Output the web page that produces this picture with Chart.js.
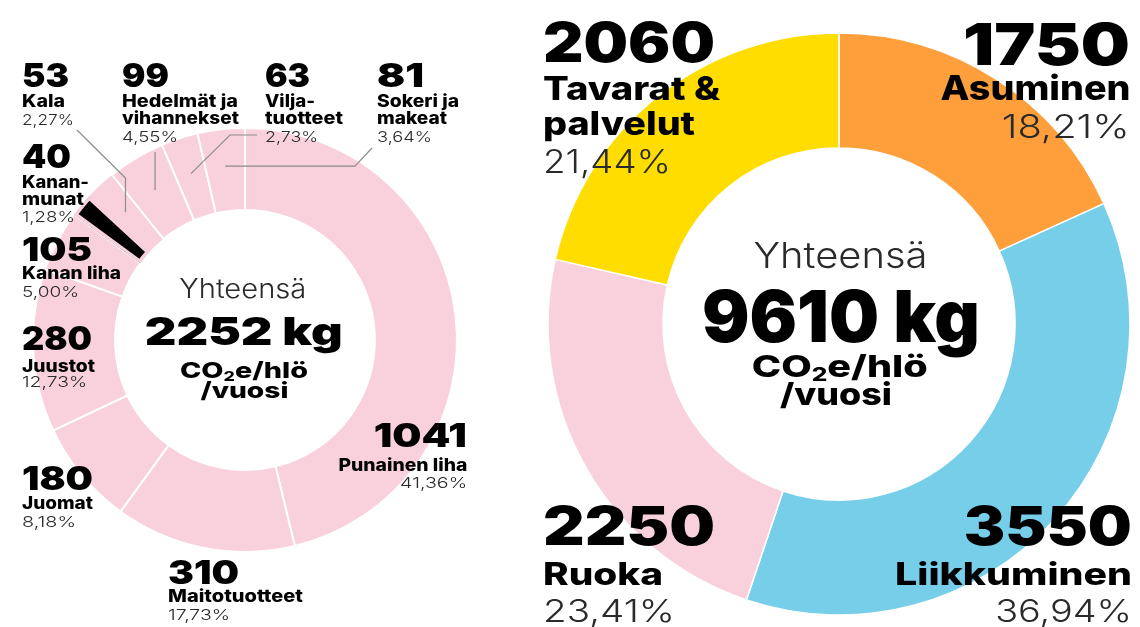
<!DOCTYPE html>
<html><head><meta charset="utf-8">
<script src="https://cdn.jsdelivr.net/npm/chart.js@4"></script>
<style>
html,body{margin:0;padding:0;background:#fff;width:1140px;height:627px;overflow:hidden}
#wrap{position:relative;width:1140px;height:627px}
canvas{position:absolute;top:0}
.t{position:absolute;white-space:nowrap;color:#000;margin:0;padding:0}
.t sub{font-size:0.62em;vertical-align:-0.22em;line-height:0}
</style></head>
<body><div id="wrap">
<canvas id="food" width="500" height="627" style="left:0"></canvas>
<canvas id="total" width="600" height="627" style="left:540px"></canvas>
</div>
<script>
// ---------- DATA ----------
const foodCategories = ['Punainen liha','Maitotuotteet','Juomat','Juustot','Kanan liha','Kananmunat','Kala','Hedelmät ja vihannekset','Viljatuotteet','Sokeri ja makeat'];
const foodValues = [1041, 310, 180, 280, 105, 40, 53, 99, 63, 81];
const foodPercents = ['41,36%','17,73%','8,18%','12,73%','5,00%','1,28%','2,27%','4,55%','2,73%','3,64%'];
const foodLabelLines = ['Punainen liha','Maitotuotteet','Juomat','Juustot','Kanan liha','Kanan-\nmunat','Kala','Hedelmät ja\nvihannekset','Vilja-\ntuotteet','Sokeri ja\nmakeat'];
const foodTotal = 2252;

const totalCategories = ['Asuminen','Liikkuminen','Ruoka','Tavarat & palvelut'];
const totalValues = [1750, 3550, 2250, 2060];
const totalPercents = ['18,21%','36,94%','23,41%','21,44%'];
const totalLabelLines = ['Asuminen','Liikkuminen','Ruoka','Tavarat &\npalvelut'];
const grandTotal = 9610;

// ---------- STYLE / LAYOUT ----------
const PINK = '#f9d1dc';
const HIGHLIGHT = 5; // Kananmunat drawn as black bar
const foodColors = foodValues.map((v, i) => i === HIGHLIGHT ? '#000000' : PINK);
const foodBorderColors = foodValues.map((v, i) => i === HIGHLIGHT ? PINK : '#ffffff');
const foodBorderWidths = foodValues.map((v, i) => i === HIGHLIGHT ? 3 : (i === HIGHLIGHT + 1 ? 0 : 2));
const foodBorderAlign = foodValues.map((v, i) => i === HIGHLIGHT ? 'inner' : 'center');
const totalColors = ['#ff9f3b', '#76cee9', '#f9d1dc', '#ffdd00'];
const FONT = 'Inter, Roboto, "Noto Sans", sans-serif';

// label blocks: x anchor, align, baselines [number, name lines..., percent], widths
const foodLayout = [
  {x:467, a:'right', y:[447,471,488], w:[93,129,67]},
  {x:168, a:'left',  y:[584,602,620], w:[71,135,62]},
  {x:22,  a:'left',  y:[490,509,527], w:[71,71,54]},
  {x:22,  a:'left',  y:[350,372,387], w:[70,73,65]},
  {x:22,  a:'left',  y:[261,279,297], w:[70,99,57]},
  {x:22,  a:'left',  y:[168,188,205,222], w:[49,67,62,53]},
  {x:22,  a:'left',  y:[87,107,125], w:[47,43,52]},
  {x:122, a:'left',  y:[87,107,124,142], w:[47,116,117,56]},
  {x:265, a:'left',  y:[87,107,124,142], w:[45,50,78,53]},
  {x:377, a:'left',  y:[87,107,124,142], w:[47,82,70,55]}
];
const foodSizes = [33, 17, 15];
const totalLayout = [
  {x:1130, a:'right', y:[65,100,138], w:[167,190,128], s:[58,34,32]},
  {x:1132, a:'right', y:[545,585,622], w:[168,237,137], s:[53,31,31]},
  {x:543,  a:'left',  y:[545,585,622], w:[172,120,132], s:[53,31,31]},
  {x:543,  a:'left',  y:[62,100,135,173], w:[172,177,152,128], s:[55,32,32]}
];
// leader lines for the small food slices: index, waypoints (null = take coordinate from slice point)
const leaders = [
  {i:6, pts:[[null,178],[77,130]]},
  {i:7, pts:[[null,152]]},
  {i:8, pts:[[230,135],[257,135]]},
  {i:9, pts:[[355,null],[372,148]]}
];

// ---------- TEXT HELPER ----------
const wrap = document.getElementById('wrap');
const mctx = document.createElement('canvas').getContext('2d');
function addText(str, o) {
  const el = document.createElement('div');
  el.className = 't';
  if (o.html) el.innerHTML = str; else el.textContent = str;
  const font = `${o.weight} ${o.size}px ${FONT}`;
  el.style.font = font;
  mctx.font = font;
  const m = mctx.measureText('Hg');
  const asc = m.fontBoundingBoxAscent, desc = m.fontBoundingBoxDescent;
  el.style.lineHeight = (asc + desc) + 'px';
  el.style.color = o.color || '#000';
  wrap.appendChild(el);
  const natW = el.getBoundingClientRect().width;
  const sx = o.w ? o.w / natW : 1;
  let left;
  if (o.align === 'left') { left = o.x; el.style.transformOrigin = 'left center'; }
  else if (o.align === 'right') { left = o.x - natW; el.style.transformOrigin = 'right center'; }
  else { left = o.x - natW / 2; el.style.transformOrigin = 'center center'; }
  el.style.left = left + 'px';
  el.style.top = (o.y - asc) + 'px';
  el.style.transform = `scaleX(${sx})`;
}

function labelBlock(value, lines, pct, L, sizes) {
  const nl = lines.split('\n');
  addText(String(value), {x:L.x, y:L.y[0], align:L.a, size:sizes[0], weight:900, w:L.w[0]});
  nl.forEach((ln, k) => addText(ln, {x:L.x, y:L.y[1+k], align:L.a, size:sizes[1], weight:800, w:L.w[1+k]}));
  const pi = nl.length + 1;
  addText(pct, {x:L.x, y:L.y[pi], align:L.a, size:sizes[2], weight:300, color:'#2a2a2a', w:L.w[pi]});
}

// ---------- CHARTS ----------
const leaderPlugin = {
  id: 'leaders',
  afterDatasetsDraw(chart) {
    const ctx = chart.ctx;
    const arcs = chart.getDatasetMeta(0).data;
    ctx.save();
    ctx.strokeStyle = '#8c8c8c';
    ctx.lineWidth = 1.2;
    leaders.forEach(ld => {
      const a = arcs[ld.i].getProps(['x','y','startAngle','endAngle','innerRadius','outerRadius'], true);
      const mid = (a.startAngle + a.endAngle) / 2;
      const r = (a.innerRadius + a.outerRadius) / 2 + 4;
      const p0 = [a.x + r * Math.cos(mid), a.y + r * Math.sin(mid)];
      ctx.beginPath();
      ctx.moveTo(p0[0], p0[1]);
      ld.pts.forEach(p => ctx.lineTo(p[0] === null ? p0[0] : p[0], p[1] === null ? p0[1] : p[1]));
      ctx.stroke();
    });
    ctx.restore();
  }
};

new Chart(document.getElementById('food'), {
  type: 'doughnut',
  data: {
    labels: foodCategories,
    datasets: [{ data: foodValues, backgroundColor: foodColors, borderColor: foodBorderColors,
                 borderWidth: foodBorderWidths, borderAlign: foodBorderAlign }]
  },
  options: {
    responsive: false, animation: false,
    radius: 212, cutout: '61.3%',
    layout: { padding: { left: 0, right: 10, top: 53, bottom: 0 } },
    plugins: { legend: { display: false }, tooltip: { enabled: false } }
  },
  plugins: [leaderPlugin]
});

new Chart(document.getElementById('total'), {
  type: 'doughnut',
  data: {
    labels: totalCategories,
    datasets: [{ data: totalValues, backgroundColor: totalColors, borderColor: '#ffffff', borderWidth: 1.5 }]
  },
  options: {
    responsive: false, animation: false,
    radius: 291, cutout: '60.5%',
    layout: { padding: { left: 0, right: 2, top: 21, bottom: 0 } },
    plugins: { legend: { display: false }, tooltip: { enabled: false } }
  }
});

// ---------- LABELS ----------
foodValues.forEach((v, i) => labelBlock(v, foodLabelLines[i], foodPercents[i], foodLayout[i], foodSizes));
totalValues.forEach((v, i) => labelBlock(v, totalLabelLines[i], totalPercents[i], totalLayout[i], totalLayout[i].s));

// centre texts
addText('Yhteensä', {x:243, y:298, align:'center', size:27, weight:300, color:'#2a2a2a', w:127});
addText(foodTotal + ' kg', {x:244, y:345, align:'center', size:39, weight:900, w:198});
addText('CO<sub>2</sub>e/hlö', {html:true, x:244, y:378, align:'center', size:22, weight:800, w:128});
addText('/vuosi', {x:244, y:398, align:'center', size:22, weight:800, w:88});

addText('Yhteensä', {x:840, y:268, align:'center', size:36, weight:300, color:'#2a2a2a', w:174});
addText(grandTotal + ' kg', {x:841, y:342, align:'center', size:72, weight:900, w:278});
addText('CO<sub>2</sub>e/hlö', {html:true, x:840, y:377, align:'center', size:30, weight:800, w:176});
addText('/vuosi', {x:836, y:405, align:'center', size:30, weight:800, w:112});
</script>
</body></html>
